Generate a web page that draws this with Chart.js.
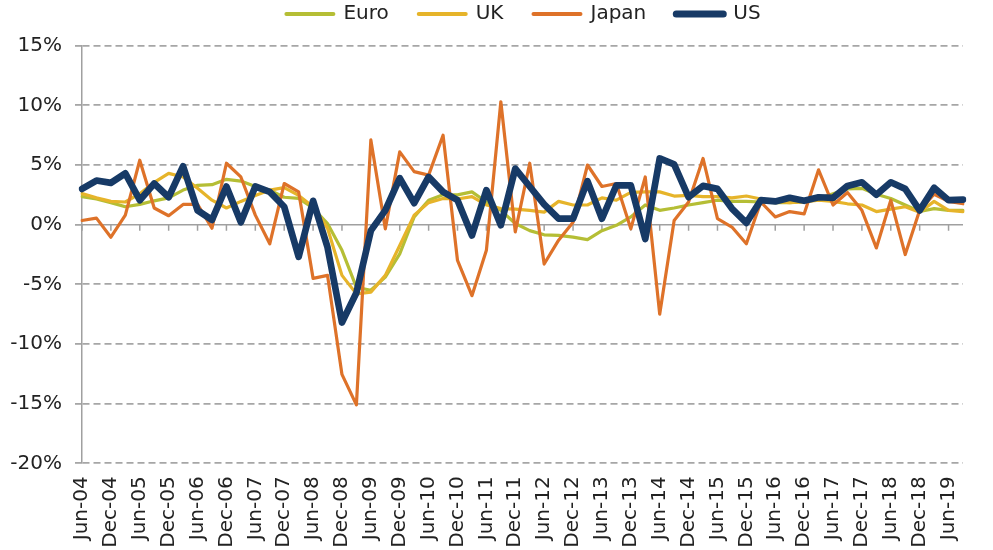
<!DOCTYPE html>
<html>
<head>
<meta charset="utf-8">
<script src="https://cdn.jsdelivr.net/npm/chart.js@4.4.1/dist/chart.umd.min.js"></script>
<style>
html,body{margin:0;padding:0;background:#fff;overflow:hidden;width:993px;height:550px}
#c{position:absolute;left:0;top:0;width:1000px;height:550px}
</style>
</head>
<body>
<canvas id="c" width="1000" height="550"></canvas>
<script>
const quarters = ["Jun-04","Sep-04","Dec-04","Mar-05","Jun-05","Sep-05","Dec-05","Mar-06","Jun-06","Sep-06","Dec-06","Mar-07","Jun-07","Sep-07","Dec-07","Mar-08","Jun-08","Sep-08","Dec-08","Mar-09","Jun-09","Sep-09","Dec-09","Mar-10","Jun-10","Sep-10","Dec-10","Mar-11","Jun-11","Sep-11","Dec-11","Mar-12","Jun-12","Sep-12","Dec-12","Mar-13","Jun-13","Sep-13","Dec-13","Mar-14","Jun-14","Sep-14","Dec-14","Mar-15","Jun-15","Sep-15","Dec-15","Mar-16","Jun-16","Sep-16","Dec-16","Mar-17","Jun-17","Sep-17","Dec-17","Mar-18","Jun-18","Sep-18","Dec-18","Mar-19","Jun-19","Sep-19"];

const euro = [2.35,2.15,1.85,1.5,1.7,2.0,2.25,2.9,3.3,3.35,3.8,3.65,3.2,2.9,2.3,2.2,1.4,0.1,-2.15,-5.25,-5.5,-4.4,-2.45,0.65,2.05,2.5,2.5,2.75,1.9,1.2,0.1,-0.5,-0.85,-0.9,-1.05,-1.25,-0.5,-0.05,0.65,1.65,1.2,1.4,1.65,1.85,2.05,1.95,1.95,1.9,1.85,1.85,1.95,2.2,2.6,3.0,3.05,2.55,2.2,1.65,1.1,1.35,1.2,1.2];

const uk = [2.6,2.25,1.95,1.9,2.6,3.55,4.3,4.0,3.05,2.05,1.4,1.95,2.45,2.9,3.1,2.45,1.5,-0.3,-4.25,-5.8,-5.65,-4.25,-1.75,0.8,1.85,2.2,2.15,2.35,1.65,1.35,1.3,1.2,1.05,1.95,1.65,1.65,2.25,2.05,2.7,2.75,2.75,2.4,2.45,2.35,2.35,2.25,2.4,2.15,1.95,1.85,1.9,2.05,1.95,1.75,1.65,1.1,1.3,1.5,1.05,1.95,1.2,1.1];

const japan = [0.35,0.55,-1.05,0.8,5.4,1.4,0.75,1.7,1.7,-0.3,5.15,4.0,0.8,-1.6,3.45,2.75,-4.5,-4.25,-12.55,-15.1,7.1,-0.35,6.1,4.45,4.15,7.5,-3.0,-5.95,-2.15,10.3,-0.6,5.15,-3.3,-1.3,0.2,5.0,3.2,3.45,-0.35,4.0,-7.5,0.35,1.9,5.55,0.5,-0.2,-1.6,1.9,0.65,1.1,0.9,4.6,1.65,2.7,1.2,-1.95,2.05,-2.5,1.2,2.55,1.95,1.75];

const us = [3.0,3.7,3.5,4.3,2.05,3.45,2.3,4.9,1.2,0.4,3.2,0.2,3.2,2.75,1.5,-2.7,2.0,-1.9,-8.2,-5.7,-0.5,1.2,3.9,1.8,4.0,2.75,2.05,-0.9,2.9,-0.05,4.7,3.2,1.7,0.5,0.5,3.65,0.5,3.3,3.3,-1.2,5.55,5.05,2.3,3.25,3.0,1.35,0.15,2.05,1.95,2.25,2.0,2.3,2.25,3.25,3.55,2.5,3.55,3.0,1.2,3.1,2.05,2.1];

const seriesNames = ["Euro","UK","Japan","US"];
const seriesColors = ["#B5BE35","#E6B42A","#DE7229","#173A66"];
const yMin = -20, yMax = 15, yStep = 5;

const FONT = "'DejaVu Sans', sans-serif";

const helperPlugin = {
  id: 'helper',
  beforeUpdate(chart) {
    const lg = chart.legend;
    if (lg && !lg._patched) {
      const f = lg.fit;
      lg.fit = function () { f.call(this); this.height = 45.7; };
      lg._patched = true;
    }
  },
  afterLayout(chart) {
    const lg = chart.legend;
    if (lg) { lg.left += 25; lg.right += 25; lg.top = -26; }
  },
  beforeDatasetsDraw(chart) {
    const {ctx, chartArea, scales} = chart;
    const x = scales.x, y = scales.y;
    const y0 = y.getPixelForValue(0);
    ctx.save();
    ctx.strokeStyle = '#A0A0A0';
    ctx.lineWidth = 1.5;
    ctx.beginPath();
    ctx.moveTo(chartArea.left, y0);
    ctx.lineTo(chartArea.right, y0);
    for (let i = 0; i < quarters.length; i += 2) {
      const px = x.getPixelForValue(i);
      ctx.moveTo(px, y0);
      ctx.lineTo(px, y0 + 6);
    }
    ctx.stroke();
    ctx.restore();
  }
};

const allSeries = [euro, uk, japan, us];
const datasets = allSeries.map((d, k) => ({
  label: seriesNames[k],
  data: d,
  borderColor: seriesColors[k],
  backgroundColor: seriesColors[k],
  borderWidth: k === 3 ? 6.7 : 3.2,
  pointRadius: 0,
  pointHoverRadius: 0,
  tension: 0,
  borderJoinStyle: 'round',
  borderCapStyle: 'round',
  order: 4 - k
}));

new Chart(document.getElementById('c'), {
  type: 'line',
  data: { labels: quarters, datasets },
  plugins: [helperPlugin],
  options: {
    responsive: false,
    maintainAspectRatio: false,
    devicePixelRatio: 1,
    animation: false,
    layout: { padding: { left: 0, right: 3, top: 0, bottom: 0 } },
    plugins: {
      legend: {
        display: true,
        position: 'top',
        labels: {
          usePointStyle: true,
          pointStyle: 'line',
          pointStyleWidth: 47,
          padding: 30,
          color: '#222',
          font: { family: FONT, size: 20 },
          sort: (a, b) => a.datasetIndex - b.datasetIndex,
          generateLabels: function (chart) {
            const items = Chart.defaults.plugins.legend.labels.generateLabels(chart);
            items.forEach(it => { it.lineWidth = it.datasetIndex === 3 ? 7 : 4; it.lineCap = 'round'; });
            return items;
          }
        }
      },
      tooltip: { enabled: false }
    },
    scales: {
      x: {
        type: 'category',
        offset: false,
        grid: { display: false, drawTicks: false },
        border: { display: false },
        ticks: {
          autoSkip: false,
          maxRotation: 90,
          minRotation: 90,
          padding: 13,
          color: '#222',
          font: { family: FONT, size: 20 },
          callback: function (v, i) { return i % 2 === 0 ? quarters[i] : ''; }
        },
        afterFit(s) { s.height = 86.7; }
      },
      y: {
        min: yMin,
        max: yMax,
        grid: {
          color: c => (c.tick && c.tick.value === 0) ? 'rgba(0,0,0,0)' : '#A6A6A6',
          lineWidth: 1.8,
          drawTicks: true,
          tickLength: 7,
          tickColor: '#A6A6A6'
        },
        border: { display: true, color: '#A0A0A0', width: 1.5, dash: [7, 4] },
        ticks: {
          stepSize: yStep,
          padding: 13,
          color: '#222',
          font: { family: FONT, size: 20 },
          callback: v => v + '%'
        },
        afterFit(s) { s.width = 82; }
      }
    }
  }
});
</script>
</body>
</html>
